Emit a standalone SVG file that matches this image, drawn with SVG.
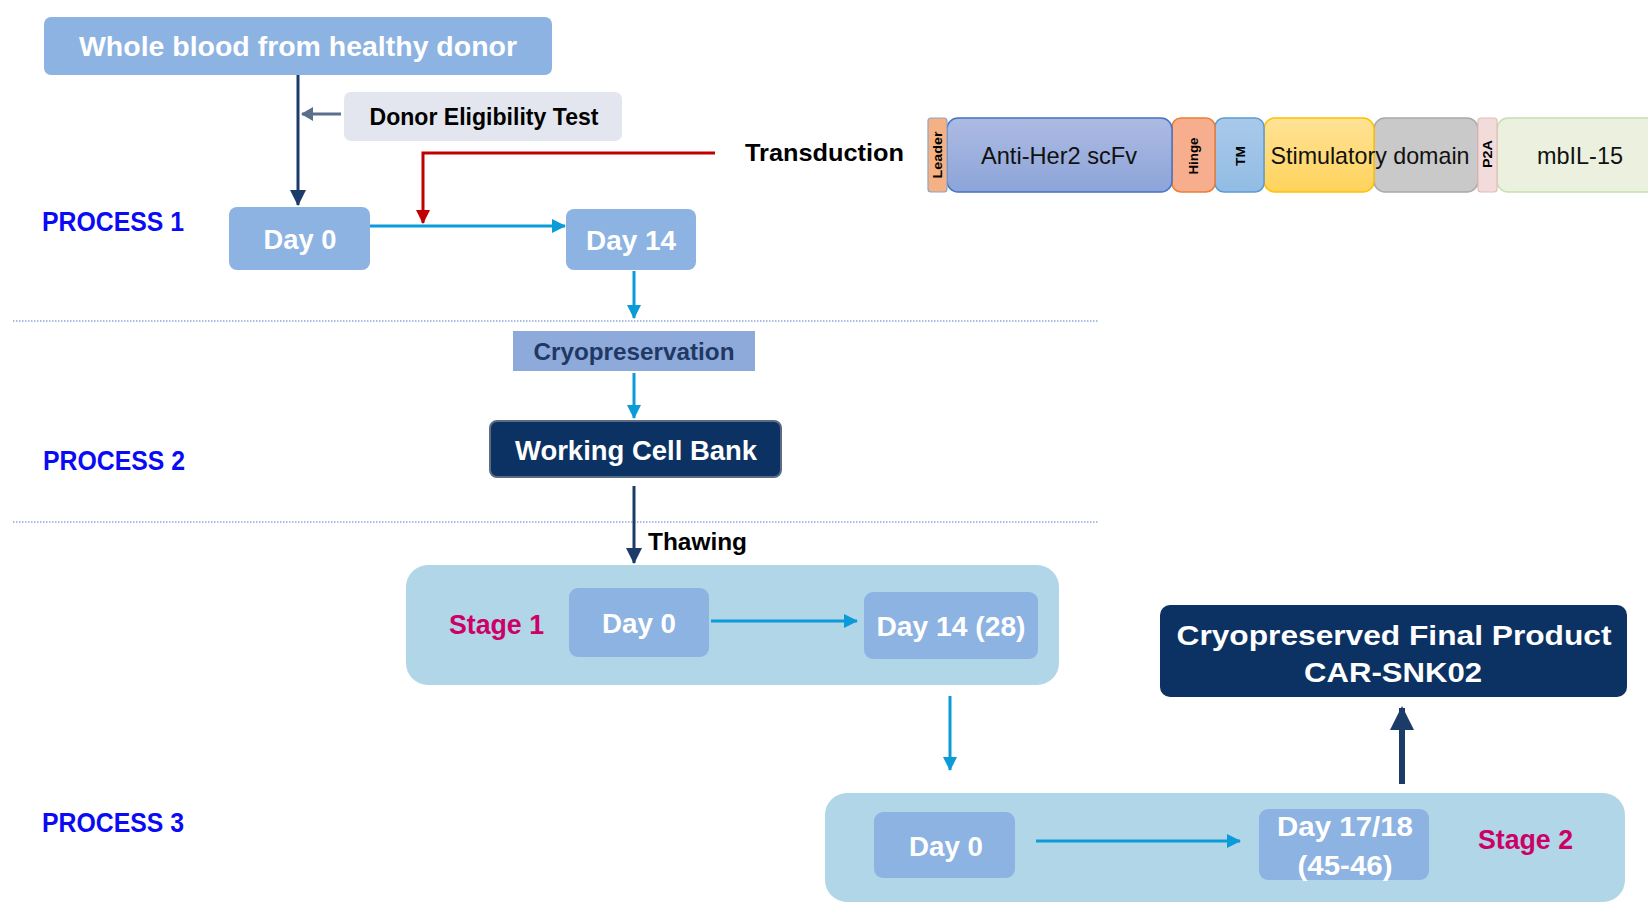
<svg xmlns="http://www.w3.org/2000/svg" width="1648" height="903" viewBox="0 0 1648 903">
<style>
  text { font-family: "Liberation Sans", Arial, sans-serif; font-weight: bold; }
  .lb { fill: #8DB3E2; }
  .wt { fill: #FFFFFF; font-size: 28px; text-anchor: middle; }
  .proc { fill: #0A0AF5; font-size: 27px; }
  .stage { fill: #CC0066; font-size: 28px; }
  .cont { fill: #B1D6E8; }
  .navy { fill: #0B3262; }
  .blk { fill: #000000; font-size: 24px; }
  .rot { fill: #000000; font-size: 12px; text-anchor: middle; }
  .gene { fill: #111111; font-size: 24px; font-weight: normal; text-anchor: middle; }
  .cyan { stroke: #0A9BD8; stroke-width: 3; fill: none; }
  .dark { stroke: #1B3B68; stroke-width: 3; fill: none; }
  .dots { stroke: #8EA9DB; stroke-width: 1.5; stroke-dasharray: 1.5 1.5; fill: none; }
</style>
<defs>
  <marker id="mCyan" markerUnits="userSpaceOnUse" markerWidth="14" markerHeight="14" refX="13" refY="7" orient="auto">
    <path d="M0,0 L14,7 L0,14 z" fill="#0A9BD8"/>
  </marker>
  <marker id="mDark" markerUnits="userSpaceOnUse" markerWidth="16" markerHeight="16" refX="15" refY="8" orient="auto">
    <path d="M0,0 L16,8 L0,16 z" fill="#1B3B68"/>
  </marker>
  <marker id="mRed" markerUnits="userSpaceOnUse" markerWidth="14" markerHeight="14" refX="13" refY="7" orient="auto">
    <path d="M0,0 L14,7 L0,14 z" fill="#C00000"/>
  </marker>
  <marker id="mGray" markerUnits="userSpaceOnUse" markerWidth="12" markerHeight="14" refX="11" refY="7" orient="auto">
    <path d="M0,0 L12,7 L0,14 z" fill="#5A6F8C"/>
  </marker>
  <marker id="mBig" markerUnits="userSpaceOnUse" markerWidth="24" markerHeight="24" refX="22" refY="12" orient="auto">
    <path d="M0,0 L24,12 L0,24 z" fill="#1B3B68"/>
  </marker>
  <linearGradient id="gScfv" x1="0" y1="0" x2="0" y2="1">
    <stop offset="0" stop-color="#ADBBE3"/>
    <stop offset="1" stop-color="#8CA4D8"/>
  </linearGradient>
  <linearGradient id="gStim" x1="0" y1="0" x2="0" y2="1">
    <stop offset="0" stop-color="#FFE296"/>
    <stop offset="1" stop-color="#FFD35C"/>
  </linearGradient>
  <linearGradient id="gTM" x1="0" y1="0" x2="0" y2="1">
    <stop offset="0" stop-color="#A9C9EA"/>
    <stop offset="1" stop-color="#92BCE4"/>
  </linearGradient>
</defs>

<!-- separators -->
<line class="dots" x1="13" y1="321" x2="1098" y2="321"/>
<line class="dots" x1="13" y1="522" x2="1098" y2="522"/>

<!-- stage containers -->
<g id="stage1-container">
  <rect class="cont" x="406" y="565" width="653" height="120" rx="22"/>
  <text class="stage" x="449" y="634" textLength="95" lengthAdjust="spacingAndGlyphs">Stage 1</text>
</g>
<g id="stage2-container">
  <rect class="cont" x="825" y="793" width="800" height="109" rx="22"/>
  <text class="stage" x="1478" y="849" textLength="95" lengthAdjust="spacingAndGlyphs">Stage 2</text>
</g>

<!-- labels -->
<g id="process-labels">
  <text class="proc" x="42" y="231" textLength="142" lengthAdjust="spacingAndGlyphs">PROCESS 1</text>
  <text class="proc" x="43" y="470" textLength="142" lengthAdjust="spacingAndGlyphs">PROCESS 2</text>
  <text class="proc" x="42" y="832" textLength="142" lengthAdjust="spacingAndGlyphs">PROCESS 3</text>
</g>

<!-- nodes -->
<g id="whole-blood">
  <rect class="lb" x="44" y="17" width="508" height="58" rx="7"/>
  <text class="wt" x="298" y="56" textLength="438" lengthAdjust="spacingAndGlyphs">Whole blood from healthy donor</text>
</g>
<g id="donor-test">
  <rect x="344" y="92" width="278" height="49" rx="7" fill="#E3E6EE"/>
  <text class="blk" x="484" y="125" font-size="22" text-anchor="middle" textLength="229" lengthAdjust="spacingAndGlyphs">Donor Eligibility Test</text>
</g>
<g id="transduction">
  <text class="blk" x="745" y="161" textLength="159" lengthAdjust="spacingAndGlyphs">Transduction</text>
</g>
<g id="p1-day0">
  <rect class="lb" x="229" y="207" width="141" height="63" rx="8"/>
  <text class="wt" x="300" y="249" textLength="73" lengthAdjust="spacingAndGlyphs">Day 0</text>
</g>
<g id="p1-day14">
  <rect class="lb" x="566" y="209" width="130" height="61" rx="8"/>
  <text class="wt" x="631" y="250" textLength="90" lengthAdjust="spacingAndGlyphs">Day 14</text>
</g>
<g id="cryopreservation">
  <rect x="513" y="331" width="242" height="40" fill="#8EAADB"/>
  <text x="634" y="360" font-size="24" fill="#1F3864" text-anchor="middle" textLength="201" lengthAdjust="spacingAndGlyphs">Cryopreservation</text>
</g>
<g id="working-cell-bank">
  <rect class="navy" x="490" y="421" width="291" height="56" rx="7" stroke="#5B6B82" stroke-width="2"/>
  <text class="wt" x="636" y="460" textLength="242" lengthAdjust="spacingAndGlyphs">Working Cell Bank</text>
</g>
<g id="thawing">
  <text class="blk" x="648" y="550" textLength="99" lengthAdjust="spacingAndGlyphs">Thawing</text>
</g>
<g id="s1-day0">
  <rect class="lb" x="569" y="588" width="140" height="69" rx="9"/>
  <text class="wt" x="639" y="633" textLength="74" lengthAdjust="spacingAndGlyphs">Day 0</text>
</g>
<g id="s1-day14">
  <rect class="lb" x="864" y="592" width="174" height="67" rx="9"/>
  <text class="wt" x="951" y="636" textLength="149" lengthAdjust="spacingAndGlyphs">Day 14 (28)</text>
</g>
<g id="s2-day0">
  <rect class="lb" x="874" y="812" width="141" height="66" rx="9"/>
  <text class="wt" x="946" y="856" textLength="74" lengthAdjust="spacingAndGlyphs">Day 0</text>
</g>
<g id="s2-day17">
  <rect class="lb" x="1259" y="809" width="170" height="71" rx="9"/>
  <text class="wt" x="1345" y="836" textLength="136" lengthAdjust="spacingAndGlyphs">Day 17/18</text>
  <text class="wt" x="1345" y="875" textLength="95" lengthAdjust="spacingAndGlyphs">(45-46)</text>
</g>
<g id="final-product">
  <rect class="navy" x="1160" y="605" width="467" height="92" rx="10"/>
  <text class="wt" x="1394" y="645" font-size="31" textLength="435" lengthAdjust="spacingAndGlyphs">Cryopreserved Final Product</text>
  <text class="wt" x="1393" y="682" font-size="31" textLength="178" lengthAdjust="spacingAndGlyphs">CAR-SNK02</text>
</g>

<!-- CAR construct -->
<g id="construct">
  <rect x="1497" y="118" width="170" height="74" rx="11" fill="#EBF1DE" stroke="#C5DFB0" stroke-width="1.5"/>
  <rect x="1374" y="118" width="104" height="74" rx="11" fill="#C9C9C9" stroke="#A9A9A9" stroke-width="1.5"/>
  <rect x="1264" y="118" width="110" height="74" rx="11" fill="url(#gStim)" stroke="#FFC000" stroke-width="1.5"/>
  <rect x="1215" y="118" width="49" height="74" rx="9" fill="url(#gTM)" stroke="#5B9BD5" stroke-width="1.5"/>
  <rect x="1172" y="118" width="43" height="74" rx="9" fill="#F6AE8E" stroke="#ED7D31" stroke-width="1.5"/>
  <rect x="947" y="118" width="225" height="74" rx="11" fill="url(#gScfv)" stroke="#4472C4" stroke-width="1.5"/>
  <rect x="928" y="118" width="19" height="74" rx="3" fill="#F4B183" stroke="#8EA3C8" stroke-width="1.2"/>
  <rect x="1478" y="118" width="19" height="74" rx="3" fill="#F2DCDB" stroke="#E6B9B8" stroke-width="1.2"/>
  <text class="rot" transform="translate(942,155) rotate(-90)" textLength="47" lengthAdjust="spacingAndGlyphs">Leader</text>
  <text class="rot" transform="translate(1198,156) rotate(-90)" font-size="13" textLength="37" lengthAdjust="spacingAndGlyphs">Hinge</text>
  <text class="rot" transform="translate(1245,156) rotate(-90)" font-size="14" textLength="20" lengthAdjust="spacingAndGlyphs">TM</text>
  <text class="rot" transform="translate(1492,154) rotate(-90)" font-size="13" textLength="28" lengthAdjust="spacingAndGlyphs">P2A</text>
  <text class="gene" x="1059" y="164" textLength="156" lengthAdjust="spacingAndGlyphs">Anti-Her2 scFv</text>
  <text class="gene" x="1370" y="164" textLength="199" lengthAdjust="spacingAndGlyphs">Stimulatory domain</text>
  <text class="gene" x="1580" y="164" textLength="86" lengthAdjust="spacingAndGlyphs">mbIL-15</text>
</g>

<!-- connectors -->
<g id="connectors">
  <line class="dark" x1="298" y1="75" x2="298" y2="205" marker-end="url(#mDark)"/>
  <line x1="341" y1="114" x2="302" y2="114" stroke="#5A6F8C" stroke-width="3" marker-end="url(#mGray)"/>
  <polyline points="715,153 423,153 423,223" fill="none" stroke="#C00000" stroke-width="3" marker-end="url(#mRed)"/>
  <line class="cyan" x1="370" y1="226" x2="565" y2="226" marker-end="url(#mCyan)"/>
  <line class="cyan" x1="634" y1="271" x2="634" y2="318" marker-end="url(#mCyan)"/>
  <line class="cyan" x1="634" y1="373" x2="634" y2="418" marker-end="url(#mCyan)"/>
  <line class="dark" x1="634" y1="486" x2="634" y2="563" marker-end="url(#mDark)"/>
  <line class="cyan" x1="711" y1="621" x2="857" y2="621" marker-end="url(#mCyan)"/>
  <line class="cyan" x1="950" y1="696" x2="950" y2="770" marker-end="url(#mCyan)"/>
  <line class="cyan" x1="1036" y1="841" x2="1240" y2="841" marker-end="url(#mCyan)"/>
  <line x1="1402" y1="784" x2="1402" y2="708" stroke="#1B3B68" stroke-width="6" marker-end="url(#mBig)"/>
</g>
</svg>
